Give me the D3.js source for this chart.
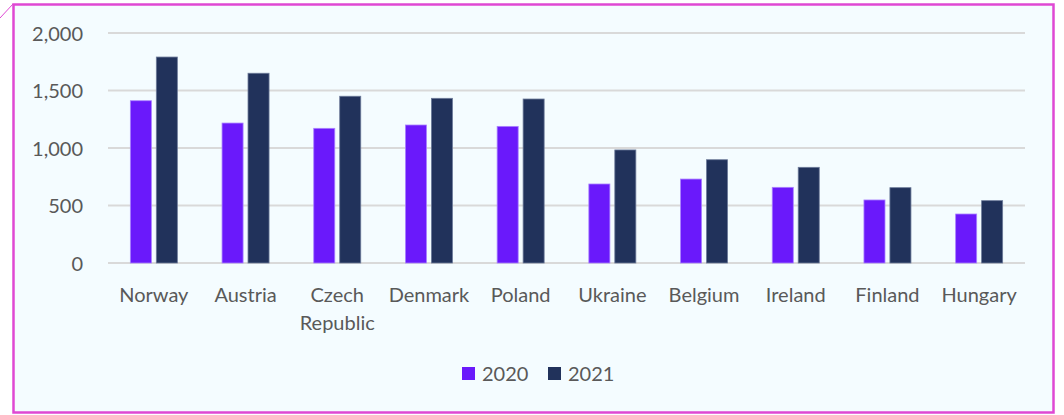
<!DOCTYPE html>
<html>
<head>
<meta charset="utf-8">
<script src="https://cdn.jsdelivr.net/npm/d3@7"></script>
<style>
  body { margin: 0; background: #fff; }
  text { font-family: Lato, "Open Sans", sans-serif; fill: #595959; }
</style>
</head>
<body>
<div id="chart"></div>
<script>
var countries = ["Norway", "Austria", "Czech Republic", "Denmark", "Poland", "Ukraine", "Belgium", "Ireland", "Finland", "Hungary"],
    years = ["2020", "2021"],
    values2020 = [1411, 1217, 1171, 1200, 1188, 687, 730, 658, 548, 426],
    values2021 = [1791, 1650, 1450, 1432, 1426, 983, 898, 832, 655, 542],
    yTicks = [0, 500, 1000, 1500, 2000],
    colors = ["#6a19fb", "#21325b"],
    strokes = ["#a980ff", "#6c7a99"];

var width = 1064, height = 415,
    margin = { top: 33, right: 39, bottom: 152, left: 108 };

var svg = d3.select("#chart").append("svg")
    .attr("width", width)
    .attr("height", height);

// frame with the little corner tick
svg.append("rect")
    .attr("x", 13.5).attr("y", 4.5)
    .attr("width", 1040).attr("height", 408)
    .attr("fill", "#f4fcff")
    .attr("stroke", "#df48d3")
    .attr("stroke-width", 2.5);
svg.append("line")
    .attr("x1", 0).attr("y1", 18).attr("x2", 13).attr("y2", 4)
    .attr("stroke", "#df48d3").attr("stroke-width", 1);

var x0 = d3.scaleBand()
    .domain(countries)
    .range([margin.left, width - margin.right]);

var x1 = d3.scaleBand()
    .domain(years)
    .range([(x0.bandwidth() - 47) / 2, (x0.bandwidth() + 47) / 2])
    .paddingInner(0.19);

var y = d3.scaleLinear()
    .domain([0, 2000])
    .range([height - margin.bottom, margin.top]);

// gridlines
svg.append("g").selectAll("line")
    .data(yTicks)
    .enter().append("line")
    .attr("x1", margin.left)
    .attr("x2", width - margin.right)
    .attr("y1", function(d) { return y(d); })
    .attr("y2", function(d) { return y(d); })
    .attr("stroke", "#d9d9d9")
    .attr("stroke-width", 2);

var yAxis = svg.append("g")
    .attr("transform", "translate(" + (margin.left - 22) + ",0)")
    .call(d3.axisLeft(y).tickValues(yTicks).tickSize(0).tickFormat(d3.format(",")));
yAxis.select(".domain").remove();
yAxis.selectAll("text")
    .style("font-size", "20px")
    .attr("dy", "0.35em")
    .attr("fill", "#595959");

var rows = countries.map(function(c, i) {
    return { country: c, vals: [values2020[i], values2021[i]] };
});

var groups = svg.append("g").selectAll("g")
    .data(rows)
    .enter().append("g")
    .attr("transform", function(d) { return "translate(" + x0(d.country) + ",0)"; });

groups.selectAll("rect")
    .data(function(d) { return d.vals.map(function(v, j) { return { year: years[j], v: v, j: j }; }); })
    .enter().append("rect")
    .attr("x", function(d) { return x1(d.year); })
    .attr("y", function(d) { return y(d.v); })
    .attr("width", x1.bandwidth())
    .attr("height", function(d) { return y(0) - y(d.v); })
    .attr("fill", function(d) { return colors[d.j]; })
    .attr("stroke", function(d) { return strokes[d.j]; })
    .attr("stroke-width", 0.8);

// category labels, wrapped on space for "Czech Republic"
var xLabels = svg.append("g").selectAll("text")
    .data(countries)
    .enter().append("text")
    .attr("x", function(d) { return x0(d) + x0.bandwidth() / 2; })
    .attr("y", 302)
    .style("font-size", "20px")
    .style("text-anchor", "middle");
xLabels.each(function(d) {
    var words = d === "Czech Republic" ? ["Czech", "Republic"] : [d];
    var t = d3.select(this);
    words.forEach(function(w, i) {
        t.append("tspan")
            .attr("x", t.attr("x"))
            .attr("dy", i === 0 ? 0 : 28)
            .text(w);
    });
});

// legend
var legend = svg.append("g").selectAll("g")
    .data(years)
    .enter().append("g")
    .attr("transform", function(d, i) { return "translate(" + (462 + i * 86) + ",367)"; });
legend.append("rect")
    .attr("width", 13).attr("height", 13)
    .attr("fill", function(d, i) { return colors[i]; });
legend.append("text")
    .attr("x", 20).attr("y", 14)
    .style("font-size", "20px")
    .text(function(d) { return d; });
</script>
</body>
</html>
